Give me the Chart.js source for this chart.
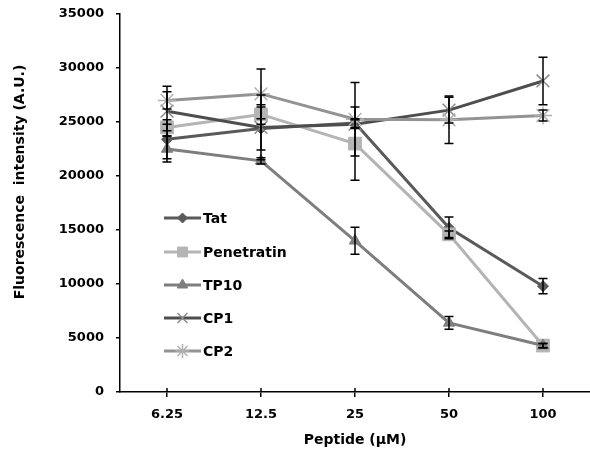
<!DOCTYPE html>
<html>
<head>
<meta charset="utf-8">
<script src="https://cdn.jsdelivr.net/npm/chart.js@4.4.1/dist/chart.umd.min.js"></script>
<style>
html,body{margin:0;padding:0;background:#fff;}
#wrap{width:590px;height:461px;position:relative;}
</style>
</head>
<body>
<div id="wrap"><canvas id="c" width="590" height="461"></canvas></div>
<script>
const categories = ['6.25', '12.5', '25', '50', '100'];
const seriesNames = ['Tat', 'Penetratin', 'TP10', 'CP1', 'CP2'];
const tat        = [23400, 24400, 24900, 15200, 9800];
const penetratin = [24500, 25700, 23000, 14600, 4300];
const tp10       = [22500, 21400, 14000, 6400, 4300];
const cp1        = [26000, 24500, 24800, 26100, 28800];
const cp2        = [27000, 27600, 25250, 25200, 25600];
const errTat        = [1800, 2000, 400, 1000, 700];
const errPenetratin = [300, 900, 3400, 300, 200];
const errTp10       = [1200, 300, 1250, 600, 200];
const errCp1        = [2300, 3000, 400, 1200, 2200];
const errCp2        = [800, 2300, 3400, 2200, 500];
const yTicks = [0, 5000, 10000, 15000, 20000, 25000, 30000, 35000];
const xTitle = 'Peptide (\u00b5M)';
const yTitle = 'Fluorescence  intensity (A.U.)';

const FONT = 'DejaVu Sans';
const values = [tat, penetratin, tp10, cp1, cp2];
const errors = [errTat, errPenetratin, errTp10, errCp1, errCp2];
const styles = [
  {color:'#5a5a5a', pt:'rectRot', r:5.5, pb:'#5a5a5a', pbw:1, order:5},
  {color:'#b4b4b4', pt:'rect', r:9, pb:'#b4b4b4', pbw:1, order:4},
  {color:'#7e7e7e', pt:'triangle', r:6.5, pb:'#7e7e7e', pbw:1, order:3},
  {color:'#4e4e4e', pt:'crossRot', r:9, pb:'#8a8a8a', pbw:1.5, order:2},
  {color:'#939393', pt:'star', r:9, pb:'#b0b0b0', pbw:1.5, order:1}
];

const datasets = seriesNames.map((n, i) => ({
  label: n,
  data: values[i],
  borderColor: styles[i].color,
  backgroundColor: styles[i].color,
  borderWidth: 3,
  pointStyle: styles[i].pt,
  pointRadius: styles[i].r,
  pointHoverRadius: styles[i].r,
  pointBackgroundColor: styles[i].color,
  pointBorderColor: styles[i].pb,
  pointBorderWidth: styles[i].pbw,
  tension: 0,
  order: styles[i].order,
  errors: errors[i]
}));

const errorBars = {
  id: 'errorBars',
  afterDatasetsDraw(chart) {
    const ctx = chart.ctx;
    const x = chart.scales.x, y = chart.scales.y;
    ctx.save();
    ctx.strokeStyle = '#000';
    ctx.lineWidth = 1.5;
    chart.data.datasets.forEach(ds => {
      ds.data.forEach((v, j) => {
        const e = ds.errors[j];
        const px = x.getPixelForValue(j);
        const top = y.getPixelForValue(v + e);
        const bot = y.getPixelForValue(v - e);
        ctx.beginPath();
        ctx.moveTo(px, top); ctx.lineTo(px, bot);
        ctx.moveTo(px - 4.5, top); ctx.lineTo(px + 4.5, top);
        ctx.moveTo(px - 4.5, bot); ctx.lineTo(px + 4.5, bot);
        ctx.stroke();
      });
    });
    ctx.restore();
  }
};

const extras = {
  id: 'extras',
  afterDraw(chart) {
    const ctx = chart.ctx;
    const a = chart.chartArea;
    const x = chart.scales.x;
    ctx.save();
    ctx.strokeStyle = '#000';
    ctx.lineWidth = 1.5;
    categories.forEach((c, j) => {
      const px = x.getPixelForValue(j);
      ctx.beginPath();
      ctx.moveTo(px, a.bottom); ctx.lineTo(px, a.bottom - 4);
      ctx.stroke();
    });
    ctx.fillStyle = '#000';
    ctx.font = 'bold 14px "' + FONT + '"';
    ctx.textAlign = 'center';
    ctx.textBaseline = 'middle';
    ctx.translate(20, 182);
    ctx.rotate(-Math.PI / 2);
    ctx.fillText(yTitle, 0, 0);
    ctx.restore();
    // legend
    ctx.save();
    const x0 = 164, x1 = 201, ys = [218, 252, 285, 318, 351];
    const legR = [5, 7, 6, 7, 7];
    chart.data.datasets.forEach((ds, i) => {
      const yy = ys[i];
      ctx.strokeStyle = ds.borderColor;
      ctx.lineWidth = 3;
      ctx.beginPath(); ctx.moveTo(x0, yy); ctx.lineTo(x1, yy); ctx.stroke();
      ctx.fillStyle = ds.pointBackgroundColor;
      ctx.strokeStyle = ds.pointBorderColor;
      ctx.lineWidth = ds.pointBorderWidth;
      Chart.helpers.drawPoint(ctx, {pointStyle: ds.pointStyle, rotation: 0, radius: legR[i], borderWidth: ds.pointBorderWidth}, (x0 + x1) / 2, yy);
      ctx.fillStyle = '#000';
      ctx.font = 'bold 14px "' + FONT + '"';
      ctx.textAlign = 'left';
      ctx.textBaseline = 'middle';
      ctx.fillText(ds.label, x1 + 2, yy + 1);
    });
    ctx.restore();
  }
};

new Chart(document.getElementById('c'), {
  type: 'line',
  data: { labels: categories, datasets },
  options: {
    responsive: false,
    animation: false,
    devicePixelRatio: 1,
    layout: { autoPadding: false, padding: { top: 14, right: 0, left: 0, bottom: 0 } },
    plugins: { legend: { display: false }, tooltip: { enabled: false } },
    scales: {
      x: {
        type: 'category',
        offset: true,
        afterFit(s) { s.height = 69; s.paddingLeft = 0; s.paddingRight = 0; },
        grid: { display: true, drawOnChartArea: false, drawTicks: true, tickLength: 5, color: '#000', lineWidth: 1.5, offset: false },
        border: { display: true, color: '#000', width: 1.5 },
        ticks: { color: '#000', font: { family: FONT, size: 13, weight: 'bold' }, padding: 10 },
        title: { display: true, text: xTitle, color: '#000', font: { family: FONT, size: 14, weight: 'bold' }, padding: { top: 4, bottom: 12 } }
      },
      y: {
        min: 0, max: 35000,
        afterFit(s) { s.width = 120; s.paddingTop = 0; s.paddingBottom = 0; },
        afterBuildTicks(s) { s.ticks = yTicks.map(v => ({ value: v })); },
        grid: { display: true, drawOnChartArea: false, drawTicks: true, tickLength: 4, color: '#000', lineWidth: 1.5 },
        border: { display: true, color: '#000', width: 1.5 },
        ticks: { color: '#000', font: { family: FONT, size: 13, weight: 'bold' }, padding: 12, callback: v => String(v) }
      }
    }
  },
  plugins: [errorBars, extras]
});
</script>
</body>
</html>
